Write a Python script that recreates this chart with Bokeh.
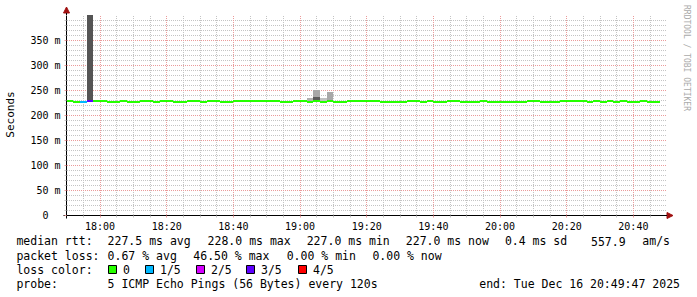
import math
import pandas as pd
from bokeh.plotting import figure
from bokeh.models import (Range1d, FixedTicker, DatetimeTickFormatter,
                          Arrow, NormalHead, ColumnDataSource)
from bokeh.core.properties import value
from bokeh.embed import file_html
from bokeh.resources import INLINE

# ---------------- data ----------------
graph_start = "2025-12-16 17:49:47"
graph_end = "2025-12-16 20:49:47"
first_bin_start = "2025-12-16 17:50:00"
step_minutes = 2

# median round-trip time per 2-minute bin (ms)
median_ms = [
    228, 227, 227, 228, 228, 228, 227, 227, 228, 227,
    227, 228, 228, 227, 228, 228, 227, 227, 228, 228,
    227, 228, 228, 227, 227, 228, 228, 228, 228, 228,
    228, 228, 227, 227, 228, 228, 227, 228, 227, 228,
    227, 227, 228, 228, 228, 228, 228, 227, 227, 227,
    227, 228, 228, 227, 228, 227, 227, 228, 228, 227,
    227, 227, 228, 227, 227, 227, 227, 227, 227, 228,
    228, 227, 227, 227, 228, 228, 228, 228, 227, 228,
    227, 228, 227, 228, 227, 227, 228, 227, 227,
]
# bins with packet loss (lost pings out of 5)
loss_bins = [2, 3]
loss_of_five = [1, 3]

# smoke (spread of the individual pings) per bin
smoke_bins = [3, 36, 37, 37, 38, 39]
smoke_low_ms = [228, 228, 236, 228, 228, 228]
smoke_high_ms = [420, 234, 251, 236, 234, 246]
smoke_gray = [85, 176, 168, 92, 192, 168]

y_ticks_ms = [0, 50, 100, 150, 200, 250, 300, 350]
y_tick_labels = ["0", "50 m", "100 m", "150 m", "200 m", "250 m", "300 m", "350 m"]
x_tick_labels = ["18:00", "18:20", "18:40", "19:00", "19:20", "19:40",
                 "20:00", "20:20", "20:40"]

rtt_stats = [227.5, 228.0, 227.0, 227.0]   # avg, max, min, now
rtt_sd = 0.4
rtt_am_s = 557.9
loss_stats = [0.67, 46.50, 0.00, 0.00]     # avg, max, min, now
loss_color_labels = ["0", "1/5", "2/5", "3/5", "4/5"]
probe_text = "5 ICMP Echo Pings (56 Bytes) every 120s"
end_text = "end: Tue Dec 16 20:49:47 2025"

# ---------------- styles / layout ----------------
loss_palette = ["#26ff00", "#00b8ff", "#d400ff", "#5e00ff", "#ff0000"]
mgrid_color = "#eb9b9b"
grid_color = "#c4c4c4"
arrow_red = "#a01010"
MONO = "DejaVu Sans Mono"

W, H = 697, 297
L, FW = 66, 600          # plot area left edge / width (px)
T, FH = 15, 200          # plot area top edge / height (px)
YMAX = 400


def ms(ts):
    return pd.Timestamp(ts).value / 1e6


t0, t1 = ms(graph_start), ms(graph_end)
day = graph_start.split(" ")[0]


def sx(px):
    return t0 + (px - L) / FW * (t1 - t0)


def sy(py):
    return (T + FH - py) * YMAX / FH


def px_of(t):
    return L + (t - t0) / (t1 - t0) * FW


def py_of(v):
    return T + FH - v * FH / YMAX


# pixel fitting helpers (lines on pixel centres, area edges on pixel borders)
def snap_x(t):
    return sx(math.floor(px_of(t) + 1e-6) + 0.5)


def snap_y(v):
    return sy(math.floor(py_of(v) + 1e-6) + 0.5)


def fit_x(t):
    return sx(math.floor(px_of(t) + 0.5))


def fit_y(v):
    return sy(math.floor(py_of(v) + 0.5))


step_ms = step_minutes * 60000
bin0 = ms(first_bin_start)
n = len(median_ms)
bin_left = [bin0 + i * step_ms for i in range(n)]
bin_right = [b + step_ms for b in bin_left]

loss = [0] * n
for b, c in zip(loss_bins, loss_of_five):
    loss[b] = c

# the svg canvas is translated by half a pixel, so the ranges compensate
p = figure(width=W, height=H, x_axis_type="datetime",
           x_range=Range1d(sx(0.5), sx(W + 0.5)),
           y_range=Range1d(sy(H + 0.5), sy(0.5)),
           output_backend="svg", toolbar_location=None,
           min_border=0, min_border_left=0, min_border_right=0,
           min_border_top=0, min_border_bottom=0)
p.outline_line_color = None
p.background_fill_color = "white"
p.border_fill_color = "white"
p.xgrid.visible = False
p.ygrid.visible = False

# ---- ticks ----
x_major = [ms(day + " " + t) for t in x_tick_labels]
x_minor = []
tm = ms(day + " 17:55")
while tm < t1:
    if all(abs(tm - xm) > 1 for xm in x_major):
        x_minor.append(tm)
    tm += 5 * 60000
y_minor = [v for v in range(10, YMAX, 10) if v not in y_ticks_ms]

# ---- dotted grid (drawn behind the data) ----
gx0, gx1 = sx(L + 1), sx(L + FW)
gy0, gy1 = sy(T + FH), YMAX


def hgrid(vals, color):
    ys = [snap_y(v) for v in vals]
    p.segment(x0=[gx0] * len(ys), x1=[gx1] * len(ys), y0=ys, y1=ys,
              line_color=color, line_width=1, line_dash="1 1")


def vgrid(vals, color):
    xs = [snap_x(t) for t in vals]
    p.segment(x0=xs, x1=xs, y0=[gy0] * len(xs), y1=[gy1] * len(xs),
              line_color=color, line_width=1, line_dash="1 1")


hgrid(y_minor, grid_color)
vgrid(x_minor, grid_color)
hgrid([v for v in y_ticks_ms if v > 0], mgrid_color)
vgrid(x_major, mgrid_color)

# ---- smoke ----
smoke_src = ColumnDataSource(dict(
    left=[fit_x(bin_left[b]) for b in smoke_bins],
    right=[fit_x(bin_right[b]) for b in smoke_bins],
    bottom=[fit_y(v) for v in smoke_low_ms],
    top=[fit_y(min(h, YMAX)) for h in smoke_high_ms],
    color=["#%02x%02x%02x" % (g, g, g) for g in smoke_gray]))
p.quad(left="left", right="right", bottom="bottom", top="top",
       fill_color="color", line_color=None, source=smoke_src)

# ---- median band coloured by loss ----
band = 2.0
med_src = ColumnDataSource(dict(
    left=[fit_x(b) for b in bin_left], right=[fit_x(b) for b in bin_right],
    bottom=[fit_y(m - band) for m in median_ms],
    top=[fit_y(m + band) for m in median_ms],
    color=[loss_palette[c] for c in loss]))
p.quad(left="left", right="right", bottom="bottom", top="top",
       fill_color="color", line_color=None, source=med_src)

# ---- axes ----
p.xaxis.ticker = FixedTicker(ticks=x_major, minor_ticks=x_minor)
p.xaxis.formatter = DatetimeTickFormatter(
    seconds="%H:%M", minsec="%H:%M", minutes="%H:%M",
    hourmin="%H:%M", hours="%H:%M", days="%H:%M")
p.yaxis.ticker = FixedTicker(ticks=y_ticks_ms, minor_ticks=y_minor)
p.yaxis.major_label_overrides = {
    t: (lab if " " in lab else lab + "\u00a0\u00a0")
    for t, lab in zip(y_ticks_ms, y_tick_labels)}

p.xaxis.fixed_location = sy(T + FH + 0.5)
p.xaxis.bounds = (sx(L - 3), t1)
p.yaxis.fixed_location = sx(L + 0.5)
p.yaxis.bounds = (sy(T + FH + 3), YMAX)

for ax in (p.xaxis[0], p.yaxis[0]):
    ax.axis_line_color = "black"
    ax.axis_line_width = 1
    ax.major_tick_out = 2
    ax.major_tick_in = 0
    ax.minor_tick_out = 2
    ax.minor_tick_in = 0
    ax.major_tick_line_color = mgrid_color
    ax.minor_tick_line_color = grid_color
    ax.major_label_text_font = MONO
    ax.major_label_text_font_size = "10px"
    ax.major_label_text_color = "black"
p.xaxis.major_label_standoff = 3
p.yaxis.major_label_standoff = 4

# axis arrows
p.add_layout(Arrow(end=NormalHead(size=6, fill_color=arrow_red, line_color=arrow_red),
                   x_start=sx(L + 0.5), y_start=YMAX, x_end=sx(L + 0.5), y_end=sy(7),
                   line_color="black", line_width=1))
p.add_layout(Arrow(end=NormalHead(size=6, fill_color=arrow_red, line_color=arrow_red),
                   x_start=t1, y_start=sy(T + FH + 0.5), x_end=sx(673),
                   y_end=sy(T + FH + 0.5), line_color="black", line_width=1))

# ---- texts ----
def put(items, align="left", size="11.5px", color="black", angle=0.0, baseline="middle"):
    xs = [sx(i[0]) for i in items]
    ys = [sy(i[1]) for i in items]
    ts = [i[2] for i in items]
    p.text(x=xs, y=ys, text=ts, angle=angle, text_align=align,
           text_baseline=baseline, text_font=value(MONO),
           text_font_size=size, text_color=color)


put([(10.5, 114.5, "Seconds")], align="center", size="11px", angle=math.pi / 2)
put([(686, 5, "RRDTOOL / TOBI OETIKER")], size="8px", color="#aaaaaa",
    angle=-math.pi / 2)

rows_y = [241, 255.5, 269.5, 284]
names = ["avg", "max", "min", "now"]
left_items = [(16.4, rows_y[0], "median rtt:")]
for px, v, nm in zip([107.6, 207.6, 306.7, 405.8], rtt_stats, names):
    left_items.append((px, rows_y[0], "%.1f ms %s" % (v, nm)))
left_items.append((504.9, rows_y[0], "%.1f ms sd" % rtt_sd))
left_items.append((591, rows_y[0], "%.1f" % rtt_am_s))
left_items.append((16.4, rows_y[1], "packet loss:"))
for px, v, nm in zip([107.6, 193.3, 286.7, 372.4], loss_stats, names):
    left_items.append((px, rows_y[1], "%.2f %% %s" % (v, nm)))
left_items.append((16.4, rows_y[2], "loss color:"))
box_x = [108, 145, 196, 246, 298]
for bx, lab in zip(box_x, loss_color_labels):
    left_items.append((bx + 15, rows_y[2], lab))
left_items.append((16.4, rows_y[3], "probe:"))
left_items.append((107.6, rows_y[3], probe_text))
put(left_items)
put([(670, rows_y[0], "am/s"), (680, rows_y[3], end_text)], align="right")

# legend colour boxes
p.quad(left=[sx(bx + 0.5) for bx in box_x], right=[sx(bx + 8.5) for bx in box_x],
       top=[sy(rows_y[2] - 4)] * len(box_x), bottom=[sy(rows_y[2] + 4)] * len(box_x),
       fill_color=loss_palette, line_color="black", line_width=1)

open("out.html", "w").write(file_html(p, INLINE))
